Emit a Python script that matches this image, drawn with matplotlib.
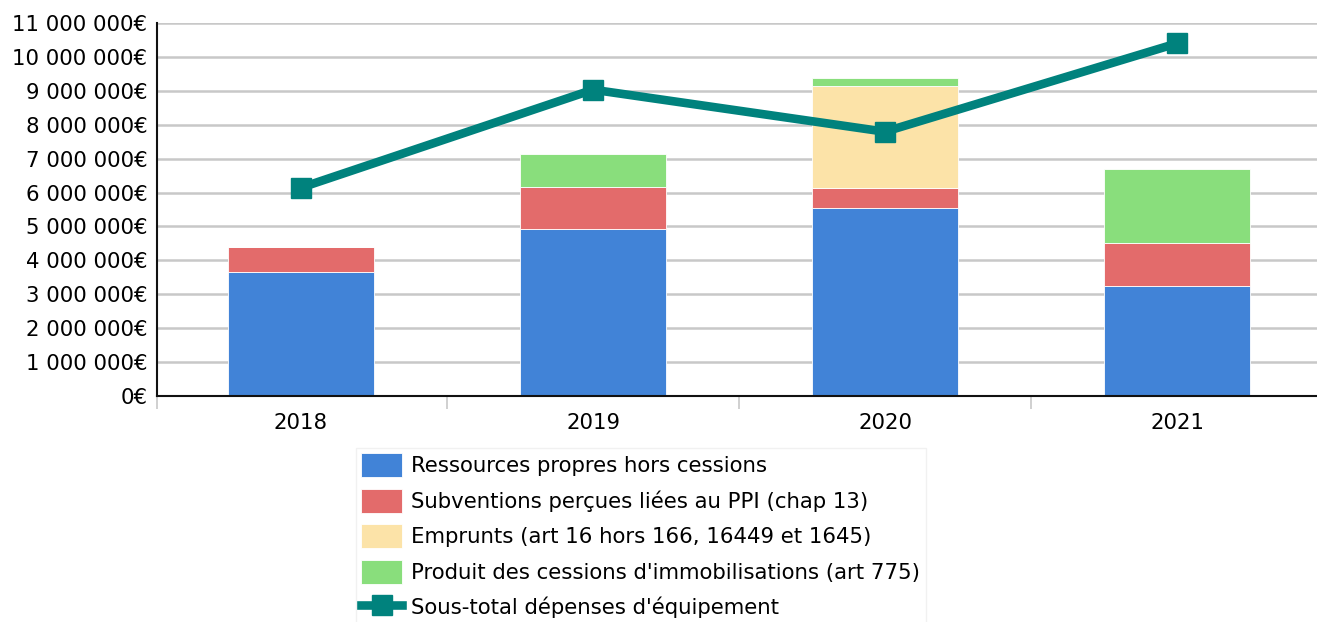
#!/usr/bin/env python3

import matplotlib
matplotlib.use("Agg")
import matplotlib.pyplot as plt
from matplotlib.ticker import FuncFormatter, FixedLocator

years = ["2018", "2019", "2020", "2021"]

ressources_propres = [3657000, 4925000, 5535000, 3253000]
subventions = [728000, 1238000, 608000, 1259000]
emprunts = [0, 0, 2999000, 0]
cessions = [10000, 974000, 227000, 2173000]
sous_total = [6143000, 9033000, 7794000, 10400000]

labels = [
    "Ressources propres hors cessions",
    "Subventions perçues liées au PPI (chap 13)",
    "Emprunts (art 16 hors 166, 16449 et 1645)",
    "Produit des cessions d'immobilisations (art 775)",
    "Sous-total dépenses d'équipement",
]
colors = ["#4183d7", "#e36b6b", "#fce3a8", "#89de7c"]
line_color = "#00827d"


def euro(v, pos=None):
    if v == 0:
        return "0€"
    return "{:,.0f}€".format(v).replace(",", " ")


def main():
    W, H = 1317, 622
    fig = plt.figure(figsize=(W / 100, H / 100), dpi=100)
    ax = fig.add_axes([157 / W, 1 - 396 / H, (1317 - 157) / W, (396 - 23) / H])

    x = list(range(len(years)))
    bottom = [0] * len(years)
    for series, color, lab in zip(
        [ressources_propres, subventions, emprunts, cessions], colors, labels
    ):
        ax.bar(x, series, width=0.5, bottom=bottom, color=color,
               edgecolor="white", linewidth=0.6, label=lab, zorder=2)
        bottom = [b + s for b, s in zip(bottom, series)]

    ax.plot(x, sous_total, color=line_color, linewidth=6.2, marker="s",
            markersize=15, label=labels[4], zorder=3)

    x0, x1 = -144 / 292, (1317 - 301) / 292
    ax.set_xlim(x0, x1)
    ax.set_ylim(0, 11000000)
    ax.yaxis.set_major_locator(FixedLocator([i * 1000000 for i in range(12)]))
    ax.yaxis.set_major_formatter(FuncFormatter(euro))
    ax.grid(axis="y", color="#c8c8c8", linewidth=1.8, zorder=0)
    ax.set_axisbelow(True)

    ax.set_xticks(x)
    ax.set_xticklabels(years)
    ax.set_xticks([x0, 0.5, 1.5, 2.5], minor=True)
    ax.tick_params(axis="x", which="major", length=0, pad=12, labelsize=15.3)
    ax.tick_params(axis="x", which="minor", length=9, width=1.2, color="#c8c8c8")
    ax.tick_params(axis="y", length=0, pad=7, labelsize=15.3)

    for side in ["top", "right"]:
        ax.spines[side].set_visible(False)
    ax.spines["left"].set_linewidth(1.5)
    ax.spines["bottom"].set_linewidth(1.5)
    ax.spines["left"].set_color("#111111")
    ax.spines["bottom"].set_color("#111111")

    handles, labs = ax.get_legend_handles_labels()
    order = [1, 2, 3, 4, 0]
    leg = fig.legend([handles[i] for i in order], [labs[i] for i in order],
                     loc="upper left", bbox_to_anchor=(356 / W, 1 - 448 / H),
                     borderaxespad=0, fontsize=15.3, frameon=True, fancybox=False,
                     handlelength=1.9, handleheight=1.35, handletextpad=0.45,
                     labelspacing=0.55, borderpad=0.25)
    leg.get_frame().set_edgecolor("#eeeeee")
    leg.get_frame().set_linewidth(1.0)

    fig.savefig("out.png", dpi=100)


if __name__ == "__main__":
    main()
